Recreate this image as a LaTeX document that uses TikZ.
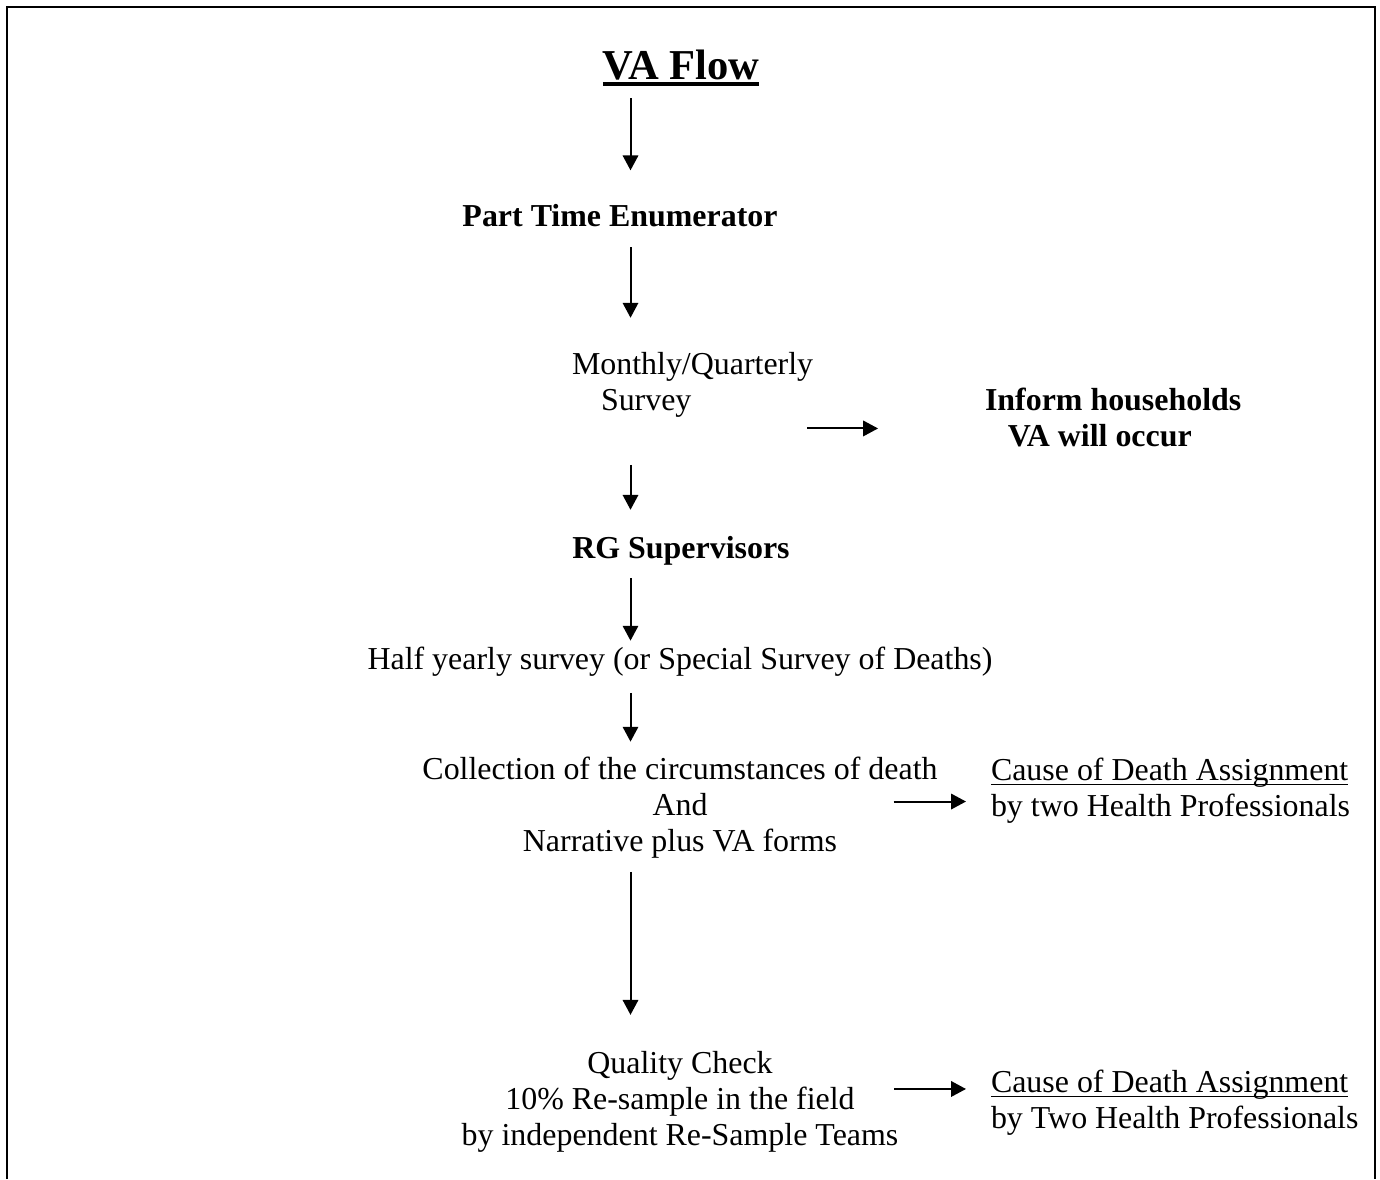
\documentclass[tikz,border=0pt]{standalone}
\usepackage{fontspec}
\setmainfont{Liberation Serif}
\usetikzlibrary{arrows.meta, positioning, calc}

\newsavebox\ulbox
\newcommand{\wordul}[3]{\sbox\ulbox{#3}\rlap{\rule[-#1]{\wd\ulbox}{#2}}\usebox\ulbox}

\begin{document}
\begin{tikzpicture}[
  x=0.3759pt, y=-0.3759pt,
  every node/.style={inner sep=0pt, outer sep=0pt},
  txt/.style={anchor=base, align=center, font=\fontsize{12}{13.5}\selectfont},
  boldtxt/.style={txt, font=\fontsize{12}{13.5}\selectfont\bfseries},
  heading/.style={anchor=base, font=\fontsize{16}{19}\selectfont\bfseries},
  arrow/.style={-{Triangle[length=5.6pt,width=5.8pt]}, line width=0.75pt},
  frame/.style={line width=0.9pt},
]

  \useasboundingbox (0,0) rectangle (1380,1179);
  \draw[frame] (7,1179) -- (7,7) -- (1375,7) -- (1375,1179);

  % multi-line nodes sit on the baseline of their last line
  \node[heading] (title) at (681,80) {\wordul{2.4pt}{1.5pt}{VA Flow}};
  \node[boldtxt] (enum) at (620,226) {Part Time Enumerator};
  \node[txt, anchor=base west, align=left] (survey) at (572,410) {Monthly/Quarterly\\\hspace*{10.9pt}Survey};
  \node[boldtxt, anchor=base west, align=left] (inform) at (985,446) {Inform households\\\hspace*{8.6pt}VA will occur};
  \node[boldtxt] (rg) at (681,558) {RG Supervisors};
  \node[txt] (half) at (680,669) {Half yearly survey (or Special Survey of Deaths)};
  \node[txt] (collect) at (680,851) {Collection of the circumstances of death\\And\\Narrative plus VA forms};
  \node[txt, anchor=base west, align=left] (cause1) at (991,816) {\wordul{1.8pt}{0.5pt}{Cause of Death Assignment}\\by two Health Professionals};
  \node[txt] (quality) at (680,1145) {Quality Check\\10\% Re-sample in the field\\by independent Re-Sample Teams};
  \node[txt, anchor=base west, align=left] (cause2) at (991,1128) {\wordul{1.8pt}{0.5pt}{Cause of Death Assignment}\\by Two Health Professionals};

  \coordinate (spine) at (630.5,0);

  \draw[arrow, shorten <=4.4pt, shorten >=12.6pt] (title.south -| spine) -- (enum.north -| spine);
  \draw[arrow, shorten <=7.9pt, shorten >=12.85pt] (enum.south -| spine) -- (survey.north -| spine);
  \draw[arrow, shorten <=18.05pt, shorten >=9.8pt] (survey.south -| spine) -- (rg.north -| spine);
  \draw[arrow, shorten <=5.1pt, shorten >=2.2pt] (rg.south -| spine) -- (half.north -| spine);
  \draw[arrow, shorten <=6.4pt, shorten >=5.65pt] (half.south -| spine) -- (collect.north -| spine);
  \draw[arrow, shorten <=5.25pt, shorten >=13.6pt] (collect.south -| spine) -- (quality.north -| spine);

  \draw[arrow, shorten >=40.2pt] ([shift={(-2.3pt,-16.55pt)}]survey.east) coordinate (s1) -- (s1 -| inform.west);
  \draw[arrow, shorten >=9.4pt] ([shift={(-16.5pt,2.15pt)}]collect.east) coordinate (s2) -- (s2 -| cause1.west);
  \draw[arrow, shorten >=9.4pt] ([shift={(-1.5pt,4.7pt)}]quality.east) coordinate (s3) -- (s3 -| cause2.west);

\end{tikzpicture}
\end{document}
